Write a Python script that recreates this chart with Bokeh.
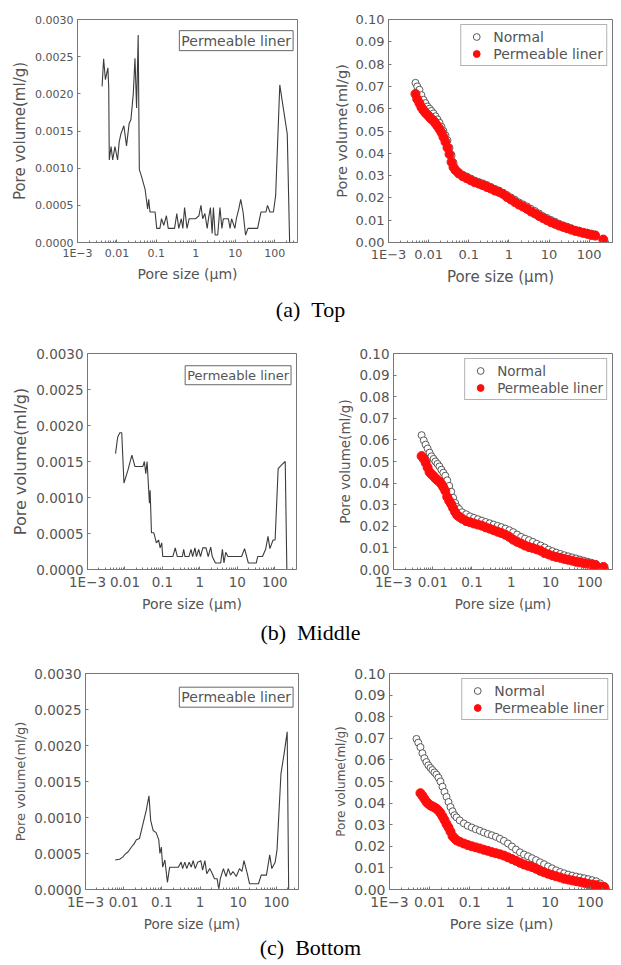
from bokeh.plotting import figure
from bokeh.models import FixedTicker, PrintfTickFormatter, Label, Legend, LegendItem, Div
from bokeh.layouts import column, row
from bokeh.embed import file_html
from bokeh.resources import INLINE

nan = float("nan")

# ---------------- data ----------------
# Pore-size distribution (left column), pore size in micrometres, volume in ml/g
top_dist_size = [0.0042, 0.0046, 0.0051, 0.0059, 0.0062, 0.0064, 0.0071, 0.0078, 0.0089, 0.0104,
                 0.0114, 0.0126, 0.015, 0.0175, 0.0204, 0.0226, 0.026, 0.0287, 0.0315, 0.0346,
                 0.037, 0.042, 0.052, 0.060, 0.064, 0.069, 0.082, 0.093, 0.102, 0.123,
                 0.135, 0.154, 0.18, 0.20, 0.29, 0.33, 0.37, 0.43, 0.47, 0.52,
                 0.60, 0.68, 1.0, 1.2, 1.35, 1.5, 1.7, 1.95, 2.1, 2.35,
                 2.6, 2.8, 3.1, 3.6, 4.1, 4.6, 5.0, 6.7, 7.4, 8.1,
                 9.8, 10.7, 12.3, 13.8, 15.8, 18.3, 21, 37, 45, 60,
                 66, 76, 93, 106, 135, 170, 209, 240]
top_dist_vol = [0.0021, 0.00247, 0.00219, 0.00235, 0.00208, 0.00111, 0.00129, 0.00111, 0.00129, 0.00111,
                0.00135, 0.00146, 0.00157, 0.0013, 0.0016, 0.00165, 0.002, 0.00248, 0.00181, 0.00279,
                0.00098, 0.00089, 0.00071, 0.00045, 0.00058, 0.00041, 0.00041, 0.00041, 0.00019, 0.00019,
                0.00032, 0.00023, 0.00036, 0.00019, 0.00019, 0.00039, 0.00019, 0.00032, 0.00019, 0.00047,
                0.00019, 0.00032, 0.00032, 0.00036, 0.0005, 0.00032, 0.00039, 0.00019, 0.00032, 0.00047,
                0.00012, 0.00047, 0.0001, 0.0001, 0.00047, 0.00019, 0.00032, 0.00032, 0.00019, 0.00032,
                0.00019, 0.00032, 0.00045, 0.00058, 0.00041, 0.0001, 0.00019, 0.00019, 0.00041, 0.00041,
                0.0005, 0.00041, 0.00041, 0.00063, 0.00212, 0.00177, 0.00146, 0.0]

mid_dist_size = [0.0056, 0.0064, 0.0073, 0.0082, 0.0094, 0.012, 0.0153, 0.0185, 0.0247, 0.030,
                 0.033, 0.036, 0.039, 0.045, 0.047, 0.051, 0.059, 0.069, 0.079, 0.087,
                 0.096, 0.102, 0.19, 0.22, 0.25, 0.34, 0.37, 0.40, 0.51, 0.58,
                 0.64, 0.74, 0.81, 0.93, 1.04, 1.2, 1.46, 1.67, 1.95, 2.14,
                 2.6, 3.6, 4.0, 4.4, 4.9, 5.6, 6.8, 8.3, 13, 15.6,
                 19.7, 32, 35, 47, 57, 66, 74, 90, 102, 123,
                 150, 190, 210]
mid_dist_vol = [0.00161, 0.00184, 0.0019, 0.0019, 0.0012, 0.00138, 0.00159, 0.00143, 0.00143, 0.00143,
                0.0015, 0.00133, 0.0015, 0.00092, 0.0011, 0.00051, 0.00051, 0.00037, 0.00041, 0.0003,
                0.00037, 0.00018, 0.00018, 0.0003, 0.00018, 0.00018, 0.00028, 0.00018, 0.00018, 0.00028,
                0.00018, 0.0003, 0.00018, 0.00028, 0.00018, 0.0003, 0.0003, 0.00018, 0.00031, 0.00018,
                0.00009, 0.00009, 0.00028, 0.00009, 0.00024, 0.00018, 0.00018, 0.00018, 0.00018, 0.00029,
                0.00009, 0.00009, 0.00018, 0.00018, 0.00028, 0.00046, 0.00029, 0.00041, 0.00041, 0.0014,
                0.00145, 0.0015, 0.0]

bot_dist_size = [0.006, 0.0078, 0.0094, 0.0114, 0.013, 0.016, 0.0185, 0.0215, 0.026, 0.030,
                 0.039, 0.046, 0.051, 0.059, 0.071, 0.083, 0.089, 0.097, 0.105, 0.12,
                 0.14, 0.16, 0.19, 0.27, 0.32, 0.35, 0.40, 0.45, 0.52, 0.59,
                 0.66, 0.75, 0.87, 1.05, 1.17, 1.34, 1.5, 1.8, 2.1, 2.4,
                 2.8, 3.1, 3.4, 4.1, 4.8, 5.5, 6.3, 7.3, 8.9, 10.8,
                 12.5, 14.2, 17.3, 19.8, 34, 40, 55, 67, 76, 93,
                 104, 132, 160, 192, 210]
bot_dist_vol = [0.00041, 0.00042, 0.00045, 0.0005, 0.00052, 0.00059, 0.00063, 0.00069, 0.00071, 0.00085,
                0.0011, 0.0013, 0.00096, 0.00082, 0.00079, 0.00069, 0.0005, 0.00059, 0.00031, 0.00041,
                0.0001, 0.00031, 0.00031, 0.00031, 0.00038, 0.00029, 0.00038, 0.00029, 0.00038, 0.00031,
                0.0004, 0.00029, 0.00038, 0.0004, 0.00027, 0.0004, 0.00022, 0.00029, 0.00022, 0.00015,
                0.00015, 0.0, 0.00015, 0.00029, 0.00018, 0.00029, 0.0002, 0.00025, 0.00018, 0.00029,
                0.00025, 0.0004, 0.00022, 0.00008, 0.00008, 0.0002, 0.0002, 0.00048, 0.00029, 0.00038,
                0.00055, 0.00161, 0.00189, 0.00219, 0.0]

# Cumulative intrusion (right column): common pore-size steps
cum_size = [0.0047, 0.0052, 0.0059, 0.0066, 0.0074, 0.0083, 0.0093, 0.0105, 0.0117, 0.0132,
            0.0148, 0.0166, 0.0186, 0.0209, 0.0234, 0.0263, 0.0295, 0.0331, 0.0372, 0.0417,
            0.0468, 0.056, 0.071, 0.089, 0.112, 0.141, 0.178, 0.224, 0.282, 0.355,
            0.447, 0.562, 0.708, 0.891, 1.12, 1.41, 1.78, 2.24, 2.82, 3.55,
            4.47, 5.62, 7.08, 8.91, 11.2, 14.1, 17.8, 22.4, 28.2, 35.5,
            44.7, 56.2, 70.8, 89.1, 112, 141, 178, 224]

top_cum_normal = [0.0716, 0.070, 0.0685, 0.0661, 0.064, 0.0625, 0.061, 0.060, 0.059, 0.0579,
                  0.0566, 0.0552, 0.0537, 0.0519, 0.050, 0.048, 0.0458, 0.0425, 0.0391, 0.0357,
                  0.0327, 0.0316, 0.0304, 0.0296, 0.0287, 0.0278, 0.0271, 0.0265, 0.0258, 0.0249,
                  0.024, 0.0233, 0.0223, 0.0213, 0.0202, 0.0192, 0.018, 0.0171, 0.0162, 0.0151,
                  0.0141, 0.013, 0.0118, 0.011, 0.0101, 0.0093, 0.0084, 0.0077, 0.0071, 0.0064,
                  0.0057, 0.0053, 0.0048, 0.0044, 0.0040, 0.0036, nan, 0.0015]
top_cum_liner = [0.0666, 0.0643, 0.0625, 0.0606, 0.0593, 0.0582, 0.0573, 0.0563, 0.0554, 0.0546,
                 0.0534, 0.0522, 0.0509, 0.0493, 0.0473, 0.0451, 0.0425, 0.0396, 0.0361, 0.0337,
                 0.0324, 0.031, 0.0297, 0.0288, 0.0279, 0.027, 0.0264, 0.0257, 0.0249, 0.0242,
                 0.0233, 0.0227, 0.0218, 0.0204, 0.0193, 0.0181, 0.017, 0.0161, 0.0151, 0.0139,
                 0.013, 0.0119, 0.0109, 0.010, 0.0091, 0.0084, 0.0076, 0.007, 0.0064, 0.0058,
                 0.0052, 0.0048, 0.0043, 0.0039, 0.0034, 0.0031, nan, 0.0013]

mid_cum_normal = [nan, 0.0622, 0.0598, 0.0578, 0.056, 0.0541, 0.0524, 0.0512, 0.050, 0.0489,
                  0.0477, 0.0462, 0.0448, 0.0434, 0.0413, 0.0387, 0.036, 0.0332, 0.0308, 0.0289,
                  0.028, 0.0265, 0.0256, 0.0246, 0.0239, 0.0233, 0.0226, 0.022, 0.0214, 0.0208,
                  0.0202, 0.0196, 0.0189, 0.0182, 0.0173, 0.0162, 0.0151, 0.0143, 0.0136, 0.0128,
                  0.0119, 0.0111, 0.0102, 0.0092, 0.0085, 0.0078, 0.0072, 0.0066, 0.0061, 0.0056,
                  0.0051, 0.0046, 0.0041, 0.0036, 0.0031, 0.0026, nan, 0.0012]
mid_cum_liner = [nan, 0.0525, 0.0512, 0.0494, 0.0472, 0.0451, 0.0441, 0.0432, 0.0422, 0.0414,
                 0.0406, 0.0396, 0.0381, 0.0364, 0.0336, 0.0318, 0.0303, 0.0284, 0.0266, 0.0252,
                 0.0245, 0.0235, 0.0224, 0.0219, 0.0213, 0.0208, 0.0203, 0.0195, 0.0189, 0.0182,
                 0.0175, 0.0169, 0.0161, 0.0151, 0.0138, 0.0128, 0.012, 0.0111, 0.0104, 0.0099,
                 0.0093, 0.0087, 0.0076, 0.007, 0.0063, 0.0058, 0.0054, 0.0049, 0.0045, 0.0041,
                 0.0036, 0.0033, 0.0029, 0.0027, 0.0023, 0.002, nan, 0.0012]

bot_cum_normal = [0.0697, 0.068, 0.0659, 0.0631, 0.0608, 0.059, 0.0575, 0.0563, 0.0553, 0.0542,
                  0.0532, 0.0518, 0.050, 0.0476, 0.0452, 0.0429, 0.0405, 0.0382, 0.0362, 0.0344,
                  0.0334, 0.032, 0.0306, 0.0295, 0.0287, 0.0279, 0.0272, 0.0264, 0.0257, 0.0251,
                  0.0244, 0.0235, 0.0225, 0.0213, 0.0199, 0.0185, 0.0172, 0.0162, 0.0154, 0.0145,
                  0.0136, 0.0126, 0.0117, 0.0107, 0.0098, 0.0089, 0.0081, 0.0075, 0.0069, 0.0064,
                  0.006, 0.0056, 0.0052, 0.0048, 0.0043, 0.0038, 0.0028, 0.0015]
bot_cum_liner = [nan, nan, 0.0446, 0.0434, 0.042, 0.0406, 0.0397, 0.0389, 0.0385, 0.038,
                 0.0374, 0.0365, 0.0354, 0.0338, 0.0322, 0.0303, 0.0287, 0.0268, 0.0247, 0.0237,
                 0.0228, 0.0221, 0.0213, 0.0206, 0.02, 0.0195, 0.019, 0.0184, 0.0179, 0.0173,
                 0.0168, 0.0163, 0.0157, 0.0149, 0.0141, 0.0133, 0.0124, 0.0116, 0.011, 0.0104,
                 0.0096, 0.0087, 0.008, 0.0073, 0.0067, 0.0061, 0.0056, 0.005, 0.0046, 0.0042,
                 0.0038, 0.0035, 0.0031, 0.0026, 0.0023, 0.002, 0.0014, 0.0011]

x_ticks = [0.001, 0.01, 0.1, 1, 10, 100]
x_tick_labels = ["1E\u22123", "0.01", "0.1", "1", "10", "100"]
dist_y_ticks = [0.0, 0.0005, 0.0010, 0.0015, 0.0020, 0.0025, 0.0030]
cum_y_ticks = [0.0, 0.01, 0.02, 0.03, 0.04, 0.05, 0.06, 0.07, 0.08, 0.09, 0.10]
series_names = ["Normal", "Permeable liner"]
captions = ["(a)&nbsp;&nbsp;Top", "(b)&nbsp;&nbsp;Middle", "(c)&nbsp;&nbsp;Bottom"]

# ---------------- style ----------------
FONT = "DejaVu Sans"
TXT = "#555555"
AXC = "#777777"
X_END = 380
minor = [m * 10.0 ** e for e in range(-3, 3) for m in range(2, 10)]


def make_fig(w, h, left, right, top, bottom, ymax, yticks, yfmt, tick_fs, ylab_fs, xlab_fs):
    p = figure(width=w, height=h, x_axis_type="log", x_range=(0.001, X_END), y_range=(0, ymax),
               output_backend="svg", toolbar_location=None,
               min_border_left=left, min_border_right=right,
               min_border_top=top, min_border_bottom=bottom)
    p.grid.visible = False
    p.outline_line_color = AXC
    p.outline_line_width = 1
    p.background_fill_color = "white"
    p.border_fill_color = "white"
    xa = p.xaxis[0]
    ya = p.yaxis[0]
    xa.ticker = FixedTicker(ticks=x_ticks, minor_ticks=minor)
    xa.major_label_overrides = dict(zip(x_ticks, x_tick_labels))
    ya.ticker = FixedTicker(ticks=yticks)
    ya.formatter = PrintfTickFormatter(format=yfmt)
    for ax in (xa, ya):
        ax.axis_line_color = AXC
        ax.major_tick_line_color = AXC
        ax.major_tick_in = 3
        ax.major_tick_out = 0
        ax.major_label_text_font = FONT
        ax.major_label_text_font_size = tick_fs
        ax.major_label_text_color = TXT
        ax.major_label_standoff = 4
        ax.axis_label_text_font = FONT
        ax.axis_label_text_font_style = "normal"
        ax.axis_label_text_color = TXT
        ax.axis_label_standoff = 3
    xa.minor_tick_line_color = AXC
    xa.minor_tick_in = 2
    xa.minor_tick_out = 0
    ya.minor_tick_line_color = None
    xa.axis_label = "Pore size (\u03bcm)"
    ya.axis_label = "Pore volume(ml/g)"
    xa.axis_label_text_font_size = xlab_fs
    ya.axis_label_text_font_size = ylab_fs
    return p


def dist_panel(w, h, left, right, top, bottom, xs, ys, tick_fs, ylab_fs, xlab_fs,
               box_x, box_y, box_fs):
    p = make_fig(w, h, left, right, top, bottom, 0.003, dist_y_ticks, "%.4f",
                 tick_fs, ylab_fs, xlab_fs)
    p.line(xs, ys, line_color="#3c3c3c", line_width=1.1)
    lab = Label(x=box_x, y=box_y, text=series_names[1], text_align="right",
                text_baseline="top", text_font=FONT, text_font_size=box_fs,
                text_color=TXT, border_line_color="#666666", border_line_width=1,
                background_fill_color="white", padding=2)
    p.add_layout(lab)
    return p


def cum_panel(w, h, left, right, top, bottom, normal, liner, tick_fs, ylab_fs, xlab_fs, leg_fs):
    p = make_fig(w, h, left, right, top, bottom, 0.10, cum_y_ticks, "%.2f",
                 tick_fs, ylab_fs, xlab_fs)
    rn = p.scatter(cum_size, normal, marker="circle", size=7, fill_color="white",
                   line_color="#5a5a5a", line_width=1)
    rl = p.scatter(cum_size, liner, marker="circle", size=9, fill_color="#ff0d0d",
                   line_color="#ff0d0d", line_width=1)
    leg = Legend(items=[LegendItem(label=series_names[0], renderers=[rn]),
                        LegendItem(label=series_names[1], renderers=[rl])],
                 location="top_right", margin=5, padding=3, spacing=0,
                 glyph_height=17, glyph_width=24, label_height=16, label_standoff=5,
                 label_text_font=FONT, label_text_font_size=leg_fs, label_text_color=TXT,
                 border_line_color="#666666", border_line_width=1,
                 background_fill_color="white", background_fill_alpha=1.0)
    p.add_layout(leg)
    return p


tl = dist_panel(302, 288, 66, 13, 9, 53, top_dist_size, top_dist_vol,
                "11px", "15px", "14px", 294, 0.00285, "14px")
tr = cum_panel(303, 288, 78, 1, 11, 54, top_cum_normal, top_cum_liner,
               "13px", "14.5px", "15px", "14px")
ml = dist_panel(302, 296, 78, 14, 29, 50, mid_dist_size, mid_dist_vol,
                "13.5px", "16px", "14px", 272, 0.00283, "13px")
mr = cum_panel(303, 296, 83, 1, 29, 51, mid_cum_normal, mid_cum_liner,
               "13.5px", "13.5px", "13.5px", "13.5px")
bl = dist_panel(302, 289, 77, 12, 27, 46, bot_dist_size, bot_dist_vol,
                "13.5px", "13px", "13.5px", 274, 0.00281, "14px")
br = cum_panel(303, 289, 79, 0, 27, 45, bot_cum_normal, bot_cum_liner,
               "14px", "12px", "14.5px", "14px")


def caption(text, h):
    return Div(text=text, width=605, height=h, margin=0,
               styles={"text-align": "center", "font-family": "'Liberation Serif', 'Times New Roman', serif",
                       "font-size": "22px", "line-height": "%dpx" % h, "color": "#000000",
                       "white-space": "nowrap"})


layout = column(row(tl, tr), caption(captions[0], 28),
                row(ml, mr), caption(captions[1], 26),
                row(bl, br), caption(captions[2], 26),
                margin=(8, 0, 0, 8))

open("out.html", "w").write(file_html(layout, INLINE))
